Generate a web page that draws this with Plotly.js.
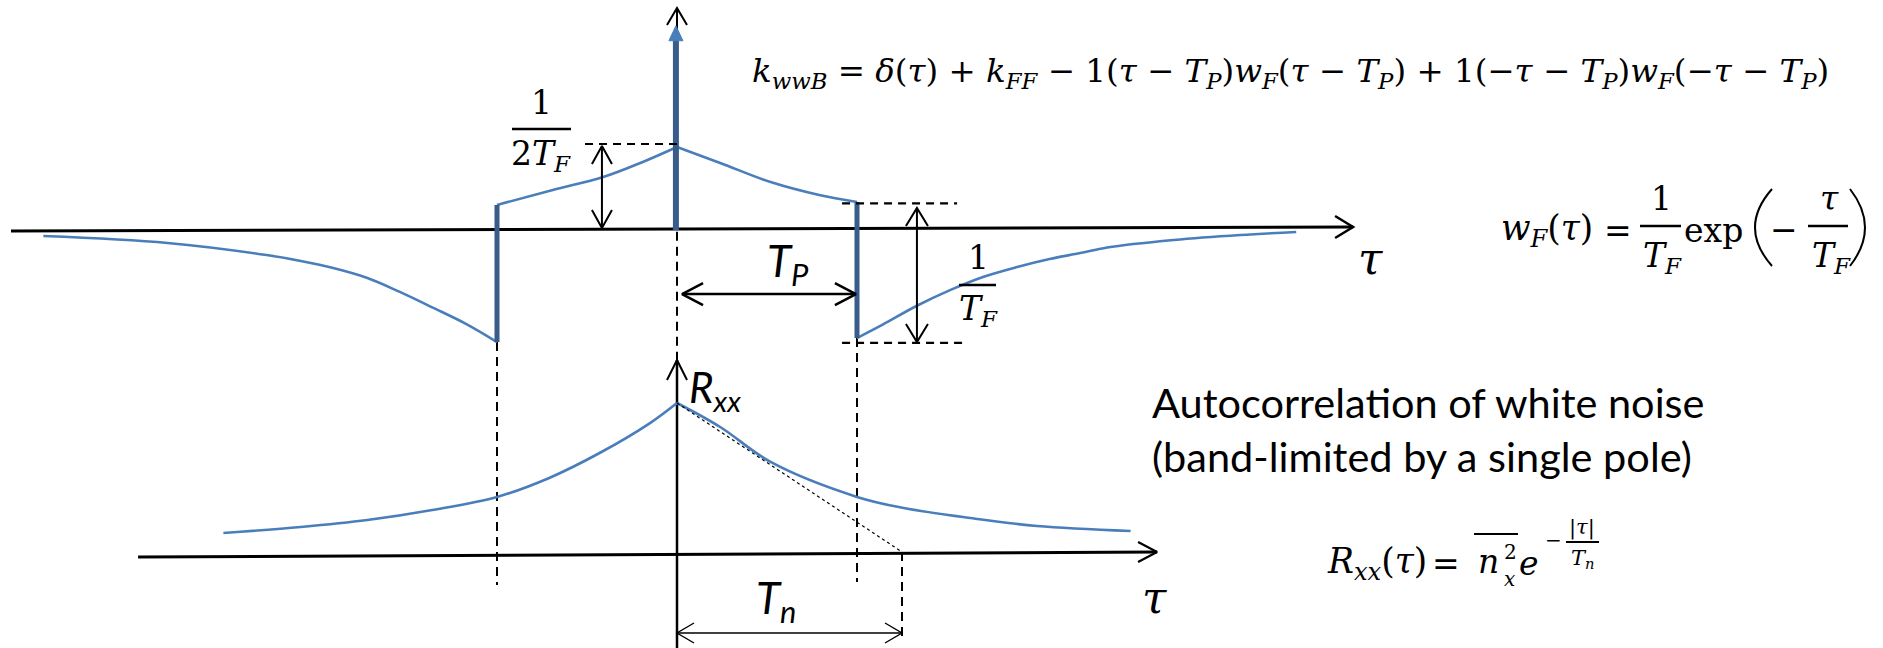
<!DOCTYPE html>
<html>
<head>
<meta charset="utf-8">
<script src="https://cdn.plot.ly/plotly-3.0.1.min.js"></script>
<style>
  html, body { margin: 0; padding: 0; background: #fff; }
  #fig { width: 1883px; height: 648px; }
</style>
</head>
<body>
<div id="fig"></div>
<script>
// ---- figure frame ---------------------------------------------------------
const W = 1883, H = 648;
const TAU_PX = 180, TAU0 = 677;   // pixels per T_P, pixel column of tau = 0
const UP_PX = 166, UP0 = 230;     // upper panel: pixels per unit, row of zero level
const LO_PX = 152, LO0 = 555;     // lower panel: pixels per unit, row of zero level

// ---- k_wwB (tau in units of T_P, value scaled so 1/(2T_F) = 0.5) ----------
const tailLeftTau  = [-3.52, -2.83, -2.28, -2.09, -1.91, -1.72, -1.54, -1.36, -1.17, -1.0];
const tailLeftVal  = [-0.036, -0.078, -0.151, -0.187, -0.229, -0.289, -0.373, -0.466, -0.567, -0.675];
const riseTau      = [-1.0, -0.69, -0.41, -0.19, 0];
const riseVal      = [0.151, 0.241, 0.319, 0.410, 0.5];
const fallTau      = [0, 0.24, 0.52, 0.79, 1.0];
const fallVal      = [0.5, 0.404, 0.289, 0.211, 0.169];
const tailRightTau = [1.0, 1.14, 1.33, 1.52, 1.70, 1.89, 2.07, 2.24, 2.39, 2.76, 3.13, 3.44];
const tailRightVal = [-0.651, -0.572, -0.458, -0.361, -0.283, -0.223, -0.175, -0.139, -0.105, -0.060, -0.030, -0.012];
const jumpTau      = [-1, 1];
const jumpTopVal   = [0.151, 0.169];
const jumpBotVal   = [-0.675, -0.651];
const deltaTop     = 1.15;

// ---- R_xx (tau in units of T_P, value normalised to the peak) -------------
const rxxLeftTau  = [-2.52, -2.09, -1.72, -1.36, -1.0, -0.71, -0.43, -0.15, 0];
const rxxLeftVal  = [0.145, 0.184, 0.230, 0.296, 0.382, 0.507, 0.671, 0.868, 1.0];
const rxxRightTau = [0, 0.24, 0.52, 1.0, 1.26, 1.63, 2.0, 2.52];
const rxxRightVal = [1.0, 0.842, 0.612, 0.382, 0.309, 0.243, 0.191, 0.158];

// ---- landmarks --------------------------------------------------------------
const TP = 1;
const halfLevel = 0.5;      // 1/(2T_F)
const levelTop = 0.16, levelBottom = -0.68;
const Tn = 1.25;

const BLUE = '#4A7EBB', BLUE_DARK = '#385D8A';
const MATH = 'DejaVu Serif, Liberation Serif, serif';
const SANS = 'Lato, Open Sans, sans-serif';

const yMinUp = (UP0 - H) / UP_PX, yMaxUp = UP0 / UP_PX;
const yMinLo = (LO0 - H) / LO_PX, yMaxLo = LO0 / LO_PX;

function seg(x, y, yaxis, width, dash, color) {
  return { x, y, yaxis, mode: 'lines', hoverinfo: 'skip',
           line: { color: color || '#000', width, dash: dash || 'solid' } };
}
function curve(x, y, yaxis, width, color) {
  return { x, y, yaxis, mode: 'lines', hoverinfo: 'skip',
           line: { color, width, shape: 'spline', smoothing: 1 } };
}
function chevron(tx, ty, dir, yaxis, len, half, width) {
  const yPx = yaxis === 'y2' ? LO_PX : UP_PX;
  const dx = len / TAU_PX, hx = half / TAU_PX, dy = len / yPx, hy = half / yPx;
  let xs, ys;
  if (dir === 'up')    { xs = [tx - hx, tx, tx + hx]; ys = [ty - dy, ty, ty - dy]; }
  if (dir === 'down')  { xs = [tx - hx, tx, tx + hx]; ys = [ty + dy, ty, ty + dy]; }
  if (dir === 'right') { xs = [tx - dx, tx, tx - dx]; ys = [ty + hy, ty, ty - hy]; }
  if (dir === 'left')  { xs = [tx + dx, tx, tx + dx]; ys = [ty + hy, ty, ty - hy]; }
  return seg(xs, ys, yaxis, width);
}

const DASH = '9px,6px';
const traces = [];

// upper axes
traces.push(seg([-3.70, 3.756], [-0.006, 0.018], 'y', 3));
traces.push(chevron(3.756, 0.018, 'right', 'y', 18, 11, 2.5));
traces.push(seg([0, 0], [0, 1.337], 'y', 2));
traces.push(chevron(0, 1.337, 'up', 'y', 17, 10, 2));

// dashed drop lines
traces.push(seg([0, 0], [-0.01, yMinUp], 'y', 2, DASH));
traces.push(seg([-TP, -TP], [jumpBotVal[0], -2.139], 'y', 2, DASH));
traces.push(seg([TP, TP], [jumpBotVal[1], -2.12], 'y', 2, DASH));

// k_wwB
traces.push(curve(tailLeftTau, tailLeftVal, 'y', 2.6, BLUE));
traces.push(curve(riseTau, riseVal, 'y', 2.6, BLUE));
traces.push(curve(fallTau, fallVal, 'y', 2.6, BLUE));
traces.push(curve(tailRightTau, tailRightVal, 'y', 2.6, BLUE));
jumpTau.forEach((t, i) => traces.push(seg([t, t], [jumpBotVal[i], jumpTopVal[i]], 'y', 5, null, BLUE_DARK)));
traces.push(seg([-0.006, -0.006], [0, deltaTop], 'y', 6, null, BLUE_DARK));
traces.push({ x: [-0.045, -0.006, 0.033, -0.045], y: [deltaTop - 0.01, deltaTop + 0.08, deltaTop - 0.01, deltaTop - 0.01],
              yaxis: 'y', mode: 'lines', fill: 'toself', fillcolor: BLUE, hoverinfo: 'skip',
              line: { color: BLUE, width: 1 } });

// level guides and dimension arrows
traces.push(seg([-0.511, 0], [halfLevel + 0.018, halfLevel + 0.018], 'y', 2.2, '8px,6px'));
traces.push(seg([0.917, 1.556], [levelTop, levelTop], 'y', 2.2, '8px,6px'));
traces.push(seg([0.917, 1.611], [levelBottom, levelBottom], 'y', 2.2, '8px,6px'));

traces.push(seg([-0.417, -0.417], [0.012, halfLevel + 0.006], 'y', 2));
traces.push(chevron(-0.417, halfLevel + 0.006, 'up', 'y', 18, 10, 2));
traces.push(chevron(-0.417, 0.012, 'down', 'y', 18, 10, 2));

traces.push(seg([1.333, 1.333], [levelTop - 0.027, levelBottom + 0.005], 'y', 2));
traces.push(chevron(1.333, levelTop - 0.027, 'up', 'y', 18, 11, 2));
traces.push(chevron(1.333, levelBottom + 0.005, 'down', 'y', 18, 11, 2));

traces.push(seg([0.028, 0.994], [-0.386, -0.386], 'y', 2.5));
traces.push(chevron(0.028, -0.386, 'left', 'y', 21, 11, 2.5));
traces.push(chevron(0.994, -0.386, 'right', 'y', 21, 11, 2.5));

// lower axes
traces.push(seg([-2.994, 2.667], [-0.013, 0.02], 'y2', 3));
traces.push(chevron(2.667, 0.02, 'right', 'y2', 19, 10, 2.2));
traces.push(seg([0, 0], [yMinLo, 1.283], 'y2', 2.5));
traces.push(chevron(0, 1.283, 'up', 'y2', 20, 10, 2));

// R_xx
traces.push(curve(rxxLeftTau, rxxLeftVal, 'y2', 2.6, BLUE));
traces.push(curve(rxxRightTau, rxxRightVal, 'y2', 2.6, BLUE));
traces.push(seg([0, Tn], [1.0, 0.02], 'y2', 1.2, '3px,3px'));
traces.push(seg([Tn, Tn], [0.02, -0.572], 'y2', 2, DASH));
traces.push(seg([0, Tn], [-0.513, -0.513], 'y2', 1.4));
traces.push(chevron(0, -0.513, 'left', 'y2', 17, 10, 1.4));
traces.push(chevron(Tn, -0.513, 'right', 'y2', 17, 10, 1.4));

// ---- text -------------------------------------------------------------------
function note(px, py, text, size, family, anchor) {
  return { xref: 'paper', yref: 'paper', x: px / W, y: 1 - py / H, text, showarrow: false,
           xanchor: anchor || 'center', yanchor: 'middle', borderpad: 0,
           font: { family, size, color: '#000' } };
}
function bar(px0, px1, py, width) {
  return { type: 'line', xref: 'paper', yref: 'paper', x0: px0 / W, x1: px1 / W,
           y0: 1 - py / H, y1: 1 - py / H, line: { color: '#000', width: width || 2.5 } };
}
function paren(pxEnd, pxBulge, pyTop, pyBot) {
  const xe = pxEnd / W, xc = (2 * pxBulge - pxEnd) / W;
  const yt = 1 - pyTop / H, yb = 1 - pyBot / H, ym = (yt + yb) / 2;
  return { type: 'path', xref: 'paper', yref: 'paper',
           path: `M ${xe},${yt} Q ${xc},${ym} ${xe},${yb}`, line: { color: '#000', width: 2 } };
}

const M = 33;   // math font size
const TF = '<i>T</i><sub><i>F</i></sub>';
const EQ_MAIN = '<i>k</i><sub><i>wwB</i></sub> = <i>δ</i>(<i>τ</i>) + <i>k</i><sub><i>FF</i></sub> − 1(<i>τ</i> − <i>T</i><sub><i>P</i></sub>)' +
  '<i>w</i><sub><i>F</i></sub>(<i>τ</i> − <i>T</i><sub><i>P</i></sub>) + 1(−<i>τ</i> − <i>T</i><sub><i>P</i></sub>)' +
  '<i>w</i><sub><i>F</i></sub>(−<i>τ</i> − <i>T</i><sub><i>P</i></sub>)';

const annotations = [
  note(751, 73, EQ_MAIN, 32.5, MATH, 'left'),

  note(1594, 230, '<i>w</i><sub><i>F</i></sub>(<i>τ</i>)', 34.5, MATH, 'right'),
  note(1618, 230, '=', M, MATH),
  note(1661, 199, '1', M, MATH),
  note(1662, 257, TF, M, MATH),
  note(1713, 231, 'exp', M, MATH),
  note(1784, 229, '−', M, MATH),
  note(1829, 199, '<i>τ</i>', M, MATH),
  note(1831, 257, TF, M, MATH),

  note(541, 102, '1', M, MATH),
  note(541, 155, '2' + TF, M, MATH),
  note(978, 257, '1', M, MATH),
  note(978, 310, TF, M, MATH),

  note(788, 263, '<i>T</i><sub><i>P</i></sub>', 44, SANS),
  note(1370, 258, '<i>τ</i>', 44, MATH),
  note(688, 390, '<i>R</i><sub><i>xx</i></sub>', 42, SANS, 'left'),
  note(776, 600, '<i>T</i><sub><i>n</i></sub>', 44, SANS),
  note(1154, 597, '<i>τ</i>', 44, MATH),

  note(1151, 402, 'Autocorrelation of white noise', 41.5, SANS, 'left'),
  note(1151, 456, '(band-limited by a single pole)', 41.5, SANS, 'left'),

  note(1428, 563, '<i>R</i><sub><i>xx</i></sub>(<i>τ</i>)', 34.5, MATH, 'right'),
  note(1446, 563, '=', M, MATH),
  note(1488, 561, '<i>n</i>', M, MATH),
  note(1510, 552, '2', 20, MATH),
  note(1509, 579, '<i>x</i>', 20, MATH),
  note(1529, 563, '<i>e</i>', M, MATH),
  note(1553, 540, '−', 20, MATH),
  note(1582, 527, '|<i>τ</i>|', 21, MATH),
  note(1582, 559, '<i>T</i><sub><i>n</i></sub>', 21, MATH)
];

const shapes = [
  bar(1640, 1681, 226), bar(1808, 1848, 226),
  paren(1772, 1755, 189, 266), paren(1850, 1865, 189, 266),
  bar(512, 571, 129), bar(959, 996, 285),
  bar(1474, 1518, 534, 2.2), bar(1566, 1599, 542, 2.2)
];

const axisOff = { visible: false, fixedrange: true, showgrid: false, zeroline: false };
const layout = {
  width: W, height: H,
  margin: { l: 0, r: 0, t: 0, b: 0, pad: 0 },
  paper_bgcolor: '#fff', plot_bgcolor: '#fff',
  showlegend: false,
  xaxis: Object.assign({ range: [-TAU0 / TAU_PX, (W - TAU0) / TAU_PX] }, axisOff),
  yaxis: Object.assign({ range: [yMinUp, yMaxUp] }, axisOff),
  yaxis2: Object.assign({ range: [yMinLo, yMaxLo], overlaying: 'y' }, axisOff),
  annotations, shapes
};

Plotly.newPlot('fig', traces, layout, { staticPlot: true, displayModeBar: false });
</script>
</body>
</html>
